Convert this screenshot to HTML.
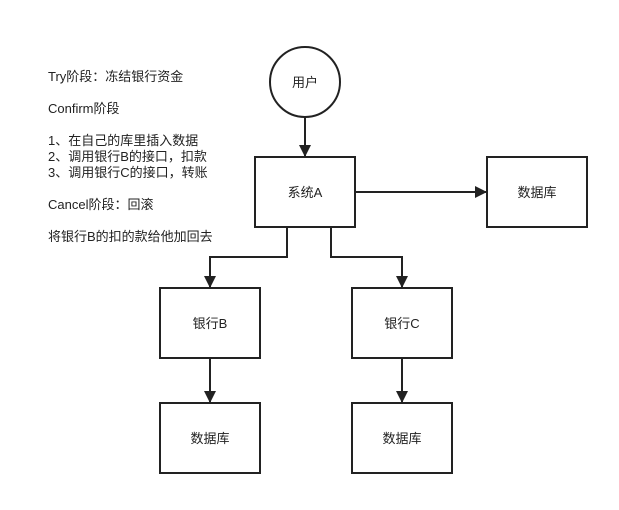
<!DOCTYPE html>
<html><head><meta charset="utf-8"><style>
body{margin:0;background:#fff}
text{font-family:"Liberation Sans","Noto Sans CJK SC",sans-serif;font-size:13px;fill:#222}
</style></head><body>
<svg width="619" height="505" xmlns="http://www.w3.org/2000/svg">
<defs><marker id="a" markerWidth="12" markerHeight="12" refX="11" refY="6" orient="auto" markerUnits="userSpaceOnUse"><path d="M0,0 L12,6 L0,12 z" fill="#222"/></marker></defs>
<g stroke="#222" stroke-width="2" fill="none">
<circle cx="305" cy="82" r="35"/>
<rect x="255" y="157" width="100" height="70"/>
<rect x="487" y="157" width="100" height="70"/>
<rect x="160" y="288" width="100" height="70"/>
<rect x="352" y="288" width="100" height="70"/>
<rect x="160" y="403" width="100" height="70"/>
<rect x="352" y="403" width="100" height="70"/>
<path d="M305,117 V156" marker-end="url(#a)"/>
<path d="M355,192 H486" marker-end="url(#a)"/>
<path d="M287,227 V257 H210 V287" marker-end="url(#a)"/>
<path d="M331,227 V257 H402 V287" marker-end="url(#a)"/>
<path d="M210,358 V402" marker-end="url(#a)"/>
<path d="M402,358 V402" marker-end="url(#a)"/>
</g>
<g text-anchor="middle">
<text x="305" y="87">用户</text>
<text x="305" y="197">系统A</text>
<text x="537" y="197">数据库</text>
<text x="210" y="328">银行B</text>
<text x="402" y="328">银行C</text>
<text x="210" y="443">数据库</text>
<text x="402" y="443">数据库</text>
</g>
<text x="48" y="81">Try阶段：冻结银行资金</text>
<text x="48" y="113">Confirm阶段</text>
<text x="48" y="145">1、在自己的库里插入数据</text>
<text x="48" y="161">2、调用银行B的接口，扣款</text>
<text x="48" y="177">3、调用银行C的接口，转账</text>
<text x="48" y="209">Cancel阶段：回滚</text>
<text x="48" y="241">将银行B的扣的款给他加回去</text>
</svg>
</body></html>
